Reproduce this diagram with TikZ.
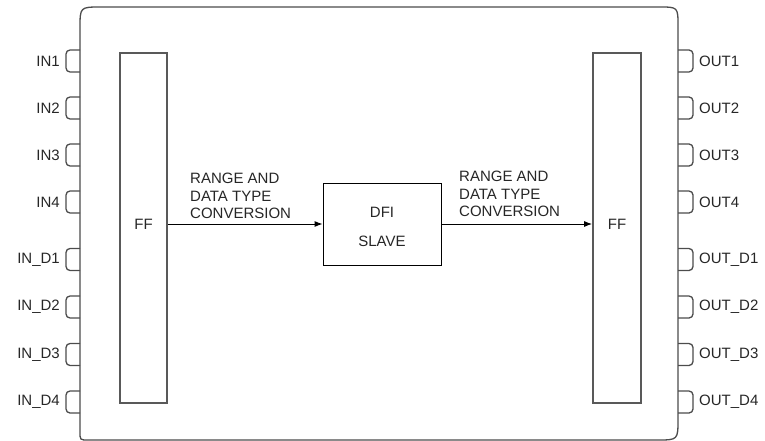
\documentclass[tikz,border=0pt]{standalone}
\usepackage{fontspec}
\setmainfont{Liberation Sans}
\usetikzlibrary{arrows.meta}
\begin{document}
\begin{tikzpicture}[x=1pt,y=-1pt,
  frame/.style={draw=black!70,line width=1.3pt},
  ffbox/.style={draw=black!65,line width=1.8pt,rectangle,inner sep=0pt},
  dfibox/.style={draw=black,line width=0.9pt,rectangle,inner sep=0pt},
  port/.style={draw=black!70,line width=1.3pt,rounded corners=4pt},
  lbl/.style={font=\fontsize{15}{17}\selectfont,inner sep=0pt,text=black!85},
  conv/.style={font=\fontsize{15}{17.5}\selectfont,inner sep=0pt,align=left,anchor=south west,text=black!85},
  flow/.style={draw=black,line width=0.9pt,-{Latex[length=8pt,width=6pt]}}]
\useasboundingbox (0,0) rectangle (765,441);
% outer frame
\draw[frame] (80,432) -- (80,28) .. controls (80,7) .. (101,7) -- (659,7)
  .. controls (678,7) .. (678,26) -- (678,419) .. controls (678,440) .. (657,440)
  -- (88,440) .. controls (80,440) .. (80,432) -- cycle;
% FF boxes
\node[ffbox,minimum width=47pt,minimum height=350pt] (ffL) at (143.5,228) {};
\node[ffbox,minimum width=48pt,minimum height=350pt] (ffR) at (617,228) {};
\node[lbl] (ffLt) at (143.5,224) {FF};
\node[lbl] (ffRt) at (617,224) {FF};
% DFI box
\node[dfibox,minimum width=118pt,minimum height=82pt] (dfi) at (382,224) {};
\node[lbl] (dfi1) at (382,212) {DFI};
\node[lbl] (dfi2) at (382,241) {SLAVE};
% arrows
\draw[flow] (ffL.east |- dfi.west) -- (dfi.west);
\draw[flow] (dfi.east) -- (ffR.west |- dfi.east);
% conversion labels
\node[conv] (cvL) at (190,219) {RANGE AND\\DATA TYPE\\CONVERSION};
\node[conv] (cvR) at (459,217) {RANGE AND\\DATA TYPE\\CONVERSION};
% input ports
\foreach \y/\t/\n in {61/IN1/i1,108/IN2/i2,155/IN3/i3,202/IN4/i4,259.5/IN\_D1/d1,307/IN\_D2/d2,354.5/IN\_D3/d3,402/IN\_D4/d4}{
  \draw[port] (80,\y-11) -- (66,\y-11) -- (66,\y+11) -- (80,\y+11);
  \node[lbl,anchor=east] (in\n) at (60,\y) {\t};
}
% output ports
\foreach \y/\t/\n in {61/OUT1/o1,108/OUT2/o2,155/OUT3/o3,202/OUT4/o4,259.5/OUT\_D1/d1,307/OUT\_D2/d2,354.5/OUT\_D3/d3,402/OUT\_D4/d4}{
  \draw[port] (678,\y-11) -- (693,\y-11) -- (693,\y+11) -- (678,\y+11);
  \node[lbl,anchor=west] (out\n) at (699,\y) {\t};
}
\end{tikzpicture}
\end{document}
